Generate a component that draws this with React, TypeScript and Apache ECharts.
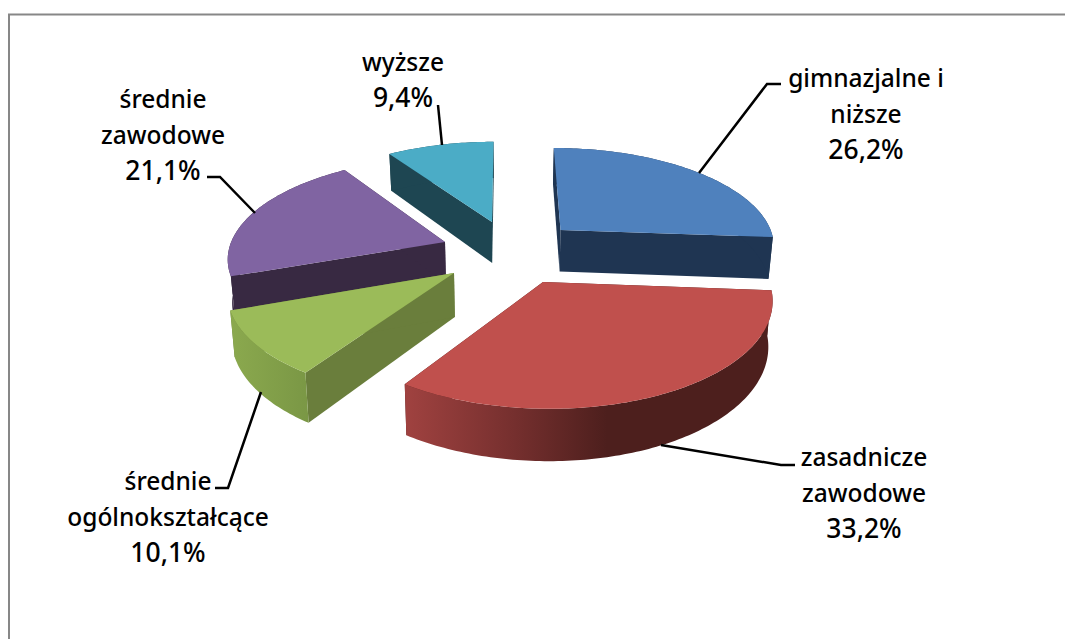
import React, { useEffect, useRef } from "react";
import * as echarts from "echarts";

const categories = [
  "gimnazjalne i\nniższe",
  "zasadnicze\nzawodowe",
  "średnie\nogólnokształcące",
  "średnie\nzawodowe",
  "wyższe",
];
const shares = [26.2, 33.2, 10.1, 21.1, 9.4];
const topColors = ["#4F81BD", "#C0504D", "#9BBB59", "#8064A2", "#4BACC6"];
const faceColors = ["#1F3552", "#4D1F1D", "#6A7E3C", "#382942", "#1E4652"];

// painter's order: back slices first
const drawOrder = [4, 3, 0, 2, 1];

// projection of the tilted pie (layout only)
const HORIZON_Y = -450;
const VANISH_X = 505;
const RADIUS_X = 0.309;
const DEPTH_U = 2.017e-4;
const THICKNESS = 0.061;
const WALL_LEAN = 0.016;

// screen position of each slice's tip (explosion)
const tips = [
  [560.5, 230],
  [543, 282],
  [454, 273],
  [445, 242],
  [492, 222],
];
const labelCentres = [
  [866, 113],
  [864, 492],
  [168, 516],
  [163, 134],
  [403, 79],
];
const leaders = [
  [[781, 84], [767, 84], [699, 173]],
  [[795, 465], [781, 465], [661, 445]],
  [[215, 488], [228, 488], [261, 392]],
  [[207, 177], [220, 177], [255, 213]],
  [[438, 105], [442, 145]],
];

const wallFill = (i: number) => {
  if (i === 1) {
    return new echarts.graphic.LinearGradient(0, 0, 1, 0, [
      { offset: 0, color: "#A04240" },
      { offset: 0.3, color: "#752F2E" },
      { offset: 0.55, color: "#4D1F1D" },
      { offset: 1, color: "#4D1F1D" },
    ]);
  }
  if (i === 2) {
    return new echarts.graphic.LinearGradient(0, 0, 1, 0, [
      { offset: 0, color: "#8BA94E" },
      { offset: 1, color: "#7A9745" },
    ]);
  }
  return faceColors[i];
};

const total = shares.reduce((a, b) => a + b, 0);
const startAngle = (i: number) =>
  (shares.slice(0, i).reduce((a, b) => a + b, 0) / total) * 2 * Math.PI;

function makeProjector(i: number) {
  const [ax, ay] = tips[i];
  const u0 = 1 / (ay - HORIZON_Y);
  const x0 = (ax - VANISH_X) * u0;
  const point = (u: number, xw: number, low: boolean) => {
    const d = 1 / u;
    const x = VANISH_X + xw * d;
    if (!low) return [x, HORIZON_Y + d];
    return [x + (VANISH_X - x) * WALL_LEAN, HORIZON_Y + d * (1 + THICKNESS)];
  };
  return {
    rim: (t: number, low: boolean) =>
      point(u0 + DEPTH_U * Math.cos(t), x0 + RADIUS_X * Math.sin(t), low),
    tip: (low: boolean) => point(u0, x0, low),
  };
}

const renderItem = (_params: any, api: any) => {
  const i = api.value(0) as number;
  const a0 = startAngle(i);
  const a1 = a0 + (api.value(1) / total) * 2 * Math.PI;
  const p = makeProjector(i);
  const steps = Math.max(12, Math.round(((a1 - a0) * 180) / Math.PI));
  const angles: number[] = [];
  for (let k = 0; k <= steps; k++) angles.push(a0 + ((a1 - a0) * k) / steps);
  const topArc = angles.map((t) => p.rim(t, false));
  const lowArc = angles.map((t) => p.rim(t, true));
  const poly = (points: number[][], fill: any) => ({
    type: "polygon",
    shape: { points },
    style: { fill, stroke: "none" },
    silent: true,
  });
  const face = (t: number) =>
    poly([p.tip(false), p.rim(t, false), p.rim(t, true), p.tip(true)], faceColors[i]);
  const c = labelCentres[i];
  const nameLines = categories[i].split("\n").map((s) => `{n|${s}}`);
  const valueLine = `{v|${shares[i].toFixed(1).replace(".", ",")}%}`;
  return {
    type: "group",
    children: [
      face(a0),
      face(a1),
      poly([...topArc, ...lowArc.slice().reverse()], wallFill(i)),
      poly([p.tip(false), ...topArc], topColors[i]),
      {
        type: "polyline",
        shape: { points: leaders[i] },
        style: { stroke: "#000", lineWidth: 2.5, fill: "none" },
        silent: true,
      },
      {
        type: "text",
        x: c[0],
        y: c[1],
        style: {
          text: [...nameLines, valueLine].join("\n"),
          fill: "#000",
          align: "center",
          verticalAlign: "middle",
          rich: {
            n: {
              fontFamily: "Noto Sans",
              fontSize: 24.5,
              fontWeight: 500,
              lineHeight: 35.5,
              fill: "#000",
            },
            v: {
              fontFamily: "Noto Sans",
              fontSize: 26.5,
              fontWeight: 500,
              lineHeight: 35.5,
              fill: "#000",
            },
          },
        },
        silent: true,
      },
    ],
  };
};

export default function App() {
  const ref = useRef<HTMLDivElement>(null);
  useEffect(() => {
    const chart = echarts.init(ref.current!, undefined, { renderer: "svg" });
    chart.setOption({
      animation: false,
      backgroundColor: "#fff",
      graphic: [
        {
          type: "polyline",
          shape: { points: [[1065, 14.5], [9, 14.5], [9, 639]] },
          style: { stroke: "#878787", lineWidth: 2, fill: "none" },
          silent: true,
        },
      ],
      series: [
        {
          type: "custom",
          coordinateSystem: "none",
          renderItem,
          data: drawOrder.map((i) => [i, shares[i]]),
        },
      ],
    });
    return () => chart.dispose();
  }, []);
  return (
    <div
      ref={ref}
      style={{ position: "fixed", left: 0, top: 0, width: 1065, height: 639 }}
    />
  );
}
